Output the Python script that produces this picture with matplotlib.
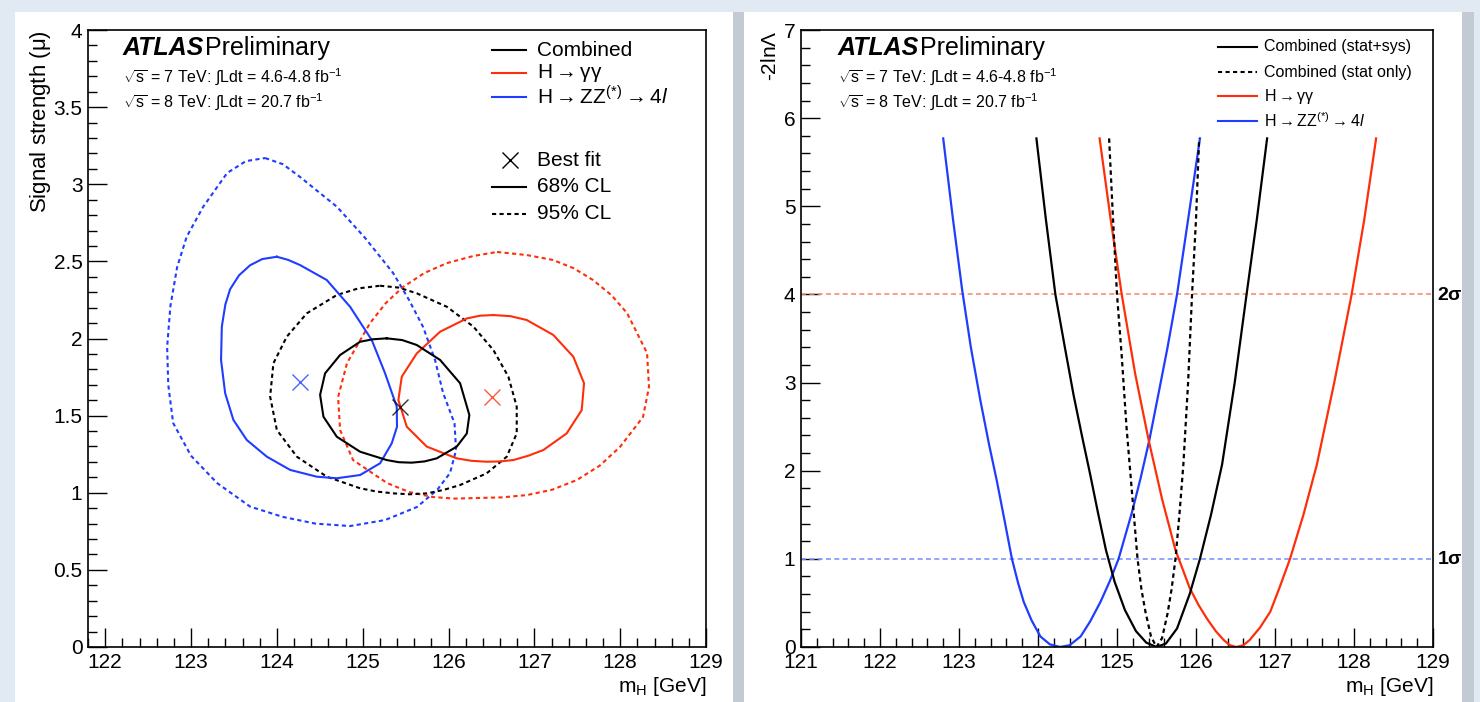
import matplotlib
matplotlib.use("Agg")
import matplotlib.pyplot as plt
from matplotlib.lines import Line2D
from matplotlib.patches import Rectangle
from matplotlib.ticker import MultipleLocator

plt.rcParams['font.family'] = ['Liberation Sans', 'DejaVu Sans']
plt.rcParams['mathtext.fontset'] = 'custom'
plt.rcParams['mathtext.rm'] = 'Liberation Sans'
plt.rcParams['mathtext.it'] = 'Liberation Sans:italic'
plt.rcParams['mathtext.bf'] = 'Liberation Sans:bold'

RED = '#ff2e0a'
BLUE = '#1f3dff'

# ---------------- left panel: (mH, mu) contours ----------------
zz95_x = [123.864, 124.07, 124.271, 124.702, 125.028, 125.354, 125.54, 125.704, 125.843, 125.937,
          126.07, 126.088, 126.018, 125.87, 125.634, 125.261, 124.853, 124.45, 124.073, 123.689,
          123.304, 123.0, 122.792, 122.735, 122.722, 122.76, 122.839, 122.95, 123.141, 123.421,
          123.64]
zz95_y = [3.170, 3.13, 3.047, 2.853, 2.652, 2.425, 2.25, 2.075, 1.861, 1.647,
          1.45, 1.277, 1.128, 1.02, 0.908, 0.823, 0.784, 0.80, 0.843, 0.910,
          1.063, 1.24, 1.452, 1.70, 1.945, 2.21, 2.464, 2.66, 2.853, 3.073,
          3.15]

zz68_x = [124.0, 124.13, 124.271, 124.582, 124.853, 125.106, 125.26, 125.397, 125.4, 125.339,
          125.203, 124.97, 124.699, 124.466, 124.155, 123.883, 123.65, 123.494, 123.398, 123.35,
          123.359, 123.40, 123.456, 123.56, 123.689, 123.83]
zz68_y = [2.53, 2.51, 2.476, 2.379, 2.206, 1.99, 1.776, 1.558, 1.428, 1.321,
          1.191, 1.115, 1.094, 1.104, 1.148, 1.234, 1.342, 1.472, 1.645, 1.861,
          2.077, 2.22, 2.32, 2.41, 2.475, 2.515]

comb68_x = [125.28, 125.46, 125.63, 125.902, 126.135, 126.243, 126.213, 126.096, 125.863, 125.72,
            125.572, 125.42, 125.28, 124.97, 124.699, 124.543, 124.504, 124.562, 124.737, 124.97,
            125.12]
comb68_y = [2.001, 1.99, 1.958, 1.861, 1.71, 1.504, 1.384, 1.299, 1.223, 1.203,
            1.195, 1.198, 1.212, 1.266, 1.363, 1.493, 1.634, 1.774, 1.893, 1.979,
            1.995]

comb95_x = [125.203, 125.42, 125.63, 125.98, 126.29, 126.523, 126.697, 126.795, 126.795, 126.679,
            126.445, 126.135, 125.94, 125.747, 125.55, 125.358, 125.16, 124.97, 124.582, 124.233,
            124.0, 123.922, 123.96, 124.116, 124.349, 124.699, 124.95]
comb95_y = [2.342, 2.33, 2.293, 2.206, 2.077, 1.925, 1.753, 1.558, 1.385, 1.234,
            1.126, 1.05, 1.018, 0.996, 0.99, 0.996, 1.008, 1.029, 1.104, 1.234,
            1.407, 1.623, 1.839, 2.012, 2.163, 2.282, 2.325]

gg68_x = [126.523, 126.72, 126.911, 127.221, 127.454, 127.579, 127.552, 127.377, 127.105, 126.93,
          126.755, 126.6, 126.445, 126.27, 126.096, 125.747, 125.514, 125.416, 125.456, 125.63,
          125.902, 126.213, 126.37]
gg68_y = [2.152, 2.145, 2.12, 2.023, 1.882, 1.71, 1.536, 1.385, 1.277, 1.24,
          1.212, 1.203, 1.201, 1.207, 1.223, 1.299, 1.428, 1.601, 1.753, 1.903,
          2.044, 2.13, 2.148]

gg95_x = [126.566, 126.911, 127.218, 127.46, 127.684, 127.9, 128.080, 128.313, 128.336, 128.266,
          127.998, 127.76, 127.497, 127.21, 126.915, 126.62, 126.333, 126.08, 125.820, 125.54,
          125.284, 124.888, 124.737, 124.714, 124.818, 125.086, 125.27, 125.471, 125.72, 125.983,
          126.29]
gg95_y = [2.561, 2.541, 2.509, 2.455, 2.379, 2.28, 2.165, 1.906, 1.686, 1.491,
          1.297, 1.175, 1.083, 1.02, 0.985, 0.97, 0.966, 0.962, 0.972, 1.005,
          1.063, 1.212, 1.407, 1.621, 1.841, 2.100, 2.23, 2.334, 2.425, 2.489,
          2.535]

best_x = [124.271, 125.436, 126.504]
best_y = [1.720, 1.558, 1.623]

# ---------------- right panel: -2 ln Lambda scans ----------------
zz_scan_x = [122.80, 122.92, 123.04, 123.15, 123.27, 123.38, 123.48, 123.58, 123.67, 123.75,
             123.82, 123.92, 124.03, 124.15, 124.28, 124.40, 124.54, 124.66, 124.79, 124.91,
             125.02, 125.19, 125.30, 125.41, 125.52, 125.64, 125.76, 125.90, 126.05]
zz_scan_y = [5.77, 4.88, 4.05, 3.40, 2.80, 2.30, 1.88, 1.42, 1.00, 0.72,
             0.51, 0.30, 0.12, 0.03, 0.0, 0.02, 0.12, 0.29, 0.51, 0.75,
             1.00, 1.53, 1.92, 2.35, 2.85, 3.40, 4.00, 4.85, 5.77]

comb_scan_x = [123.98, 124.10, 124.22, 124.34, 124.45, 124.56, 124.66, 124.76, 124.86, 124.97,
               125.10, 125.24, 125.37, 125.50, 125.62, 125.76, 125.92, 126.05, 126.19, 126.33,
               126.49, 126.64, 126.77, 126.90]
comb_scan_y = [5.77, 4.85, 4.00, 3.40, 2.86, 2.38, 1.96, 1.52, 1.10, 0.74,
               0.42, 0.18, 0.05, 0.0, 0.04, 0.21, 0.60, 1.00, 1.50, 2.07,
               3.00, 4.00, 4.85, 5.77]

stat_scan_x = [124.90, 124.95, 125.00, 125.06, 125.12, 125.19, 125.26, 125.31, 125.36, 125.43,
               125.50, 125.57, 125.64, 125.69, 125.74, 125.79, 125.84, 125.90, 125.95, 126.00,
               126.04]
stat_scan_y = [5.77, 4.85, 4.00, 3.30, 2.50, 1.75, 1.00, 0.65, 0.40, 0.12,
               0.0, 0.10, 0.38, 0.65, 1.00, 1.50, 2.07, 3.00, 4.00, 4.85,
               5.77]

gg_scan_x = [124.78, 124.92, 125.06, 125.23, 125.40, 125.57, 125.74, 125.92, 126.03, 126.14,
             126.25, 126.35, 126.43, 126.51, 126.60, 126.68, 126.81, 126.94, 127.06, 127.19,
             127.36, 127.53, 127.75, 127.97, 128.13, 128.28]
gg_scan_y = [5.77, 4.85, 4.00, 3.10, 2.35, 1.68, 1.10, 0.67, 0.48, 0.32,
             0.18, 0.08, 0.02, 0.0, 0.02, 0.08, 0.22, 0.40, 0.68, 1.00,
             1.50, 2.07, 3.00, 4.00, 4.85, 5.77]

W, H = 1480, 702
fig = plt.figure(figsize=(W / 100, H / 100), dpi=100)
fig.patch.set_facecolor('#e1e9f3')


def fx(px):
    return px / W


def fy(py):
    return 1 - py / H


# white panels with a grey shadow on the right
for x0, x1 in [(15, 733), (744, 1462)]:
    fig.add_artist(Rectangle((fx(x1), 0), fx(12), fy(12), transform=fig.transFigure,
                             facecolor='#c3cad4', edgecolor='none', zorder=-2))
    fig.add_artist(Rectangle((fx(x0), 0), fx(x1 - x0), fy(12), transform=fig.transFigure,
                             facecolor='white', edgecolor='none', zorder=-1))


def style_axes(ax, xmin, xmax, ymax, yminor):
    ax.set_xlim(xmin, xmax)
    ax.set_ylim(0, ymax)
    ax.xaxis.set_major_locator(MultipleLocator(1))
    ax.xaxis.set_minor_locator(MultipleLocator(0.2))
    ax.yaxis.set_minor_locator(MultipleLocator(yminor))
    ax.tick_params(which='both', direction='in', top=False, right=False, labelsize=15)
    ax.tick_params(which='major', length=13.5, width=1.0)
    ax.tick_params(which='minor', length=6.5, width=1.0)
    ax.tick_params(axis='y', pad=4)
    ax.tick_params(axis='x', pad=4)
    for s in ax.spines.values():
        s.set_linewidth(1.2)


bottom = fy(647)
height = (647 - 30) / H

# ---------- left ----------
ax1 = fig.add_axes([fx(88), bottom, fx(706 - 88), height])
style_axes(ax1, 121.8, 129, 4, 0.1)
ax1.set_yticks([0, 0.5, 1, 1.5, 2, 2.5, 3, 3.5, 4])
ax1.set_yticklabels(['0', '0.5', '1', '1.5', '2', '2.5', '3', '3.5', '4'])

dot = (0, (2, 1.6))
for cx, cy, col, ls in [(zz95_x, zz95_y, BLUE, dot), (gg95_x, gg95_y, RED, dot),
                        (comb95_x, comb95_y, 'black', dot),
                        (zz68_x, zz68_y, BLUE, '-'), (gg68_x, gg68_y, RED, '-'),
                        (comb68_x, comb68_y, 'black', '-')]:
    ax1.plot(cx + cx[:1], cy + cy[:1], color=col, ls=ls, lw=1.5, solid_joinstyle='round')

for bx, by, col in zip(best_x, best_y, [BLUE, 'black', RED]):
    ax1.plot(bx, by, marker='x', ms=11, mew=1.0, color=col, alpha=0.8)

ax1.set_ylabel(r'Signal strength ($\mathrm{\mu}$)', fontsize=16)
ax1.yaxis.set_label_coords(-0.057, 1.0)
ax1.yaxis.label.set_horizontalalignment('right')
fig.text(fx(706), fy(686), r'm$_{\rm H}$ [GeV]', fontsize=15, ha='right', va='center')

# ---------- right ----------
ax2 = fig.add_axes([fx(801), bottom, fx(1433 - 801), height])
style_axes(ax2, 121, 129, 7, 0.2)
ax2.yaxis.set_major_locator(MultipleLocator(1))

ax2.axhline(4, color='#ff8a75', ls=(0, (3, 2)), lw=1.2)
ax2.axhline(1, color='#7f95ff', ls=(0, (3, 2)), lw=1.2)
ax2.plot(zz_scan_x, zz_scan_y, color=BLUE, lw=1.6, solid_joinstyle='round')
ax2.plot(gg_scan_x, gg_scan_y, color=RED, lw=1.6, solid_joinstyle='round')
ax2.plot(comb_scan_x, comb_scan_y, color='black', lw=1.6, solid_joinstyle='round')
ax2.plot(stat_scan_x, stat_scan_y, color='black', lw=1.6, ls=(0, (2, 1.6)))

ax2.set_ylabel(r'-2ln$\Lambda$', fontsize=15)
ax2.yaxis.set_label_coords(-0.033, 1.0)
ax2.yaxis.label.set_horizontalalignment('right')
fig.text(fx(1433), fy(686), r'm$_{\rm H}$ [GeV]', fontsize=15, ha='right', va='center')
fig.text(fx(1437), fy(295), r'2$\mathbf{\sigma}$', fontsize=14, fontweight='bold', va='center')
fig.text(fx(1437), fy(559), r'1$\mathbf{\sigma}$', fontsize=14, fontweight='bold', va='center')

# ---------- ATLAS labels ----------
for x0 in [123, 838]:
    fig.text(fx(x0), fy(48), 'ATLAS', fontsize=18, fontweight='bold', style='italic', va='center')
    fig.text(fx(x0 + 82), fy(48), 'Preliminary', fontsize=18, va='center')
    fig.text(fx(x0), fy(77), r'$\sqrt{\rm s}$ = 7 TeV: $\int$Ldt = 4.6-4.8 fb$^{-1}$', fontsize=11.5, va='center')
    fig.text(fx(x0), fy(102), r'$\sqrt{\rm s}$ = 8 TeV: $\int$Ldt = 20.7 fb$^{-1}$', fontsize=11.5, va='center')

HGG = r'H$\rightarrow\mathrm{\gamma\gamma}$'
HZZ = r'H$\rightarrow$ZZ$^{(*)}$$\rightarrow$4$\mathit{l}$'

# left legend
leg_left = [('Combined', 'black', '-', 50), (HGG, RED, '-', 73), (HZZ, BLUE, '-', 97),
            ('68% CL', 'black', '-', 187), ('95% CL', 'black', dot, 214)]
for lab, col, ls, y in leg_left:
    fig.add_artist(Line2D([fx(492), fx(526)], [fy(y), fy(y)], transform=fig.transFigure,
                          color=col, ls=ls, lw=1.5))
    fig.text(fx(537), fy(y), lab, fontsize=15, va='center')
fig.add_artist(Line2D([fx(510)], [fy(160)], transform=fig.transFigure, marker='x', ms=11,
                      mew=1.0, color='black', ls='none'))
fig.text(fx(537), fy(160), 'Best fit', fontsize=15, va='center')

# right legend
leg_right = [('Combined (stat+sys)', 'black', '-', 47), ('Combined (stat only)', 'black', (0, (2, 1.6)), 72),
             (HGG, RED, '-', 96), (HZZ, BLUE, '-', 121)]
for lab, col, ls, y in leg_right:
    fig.add_artist(Line2D([fx(1218), fx(1257)], [fy(y), fy(y)], transform=fig.transFigure,
                          color=col, ls=ls, lw=1.5))
    fig.text(fx(1264), fy(y), lab, fontsize=11.5, va='center')

fig.savefig('out.png', dpi=100, facecolor=fig.get_facecolor())
